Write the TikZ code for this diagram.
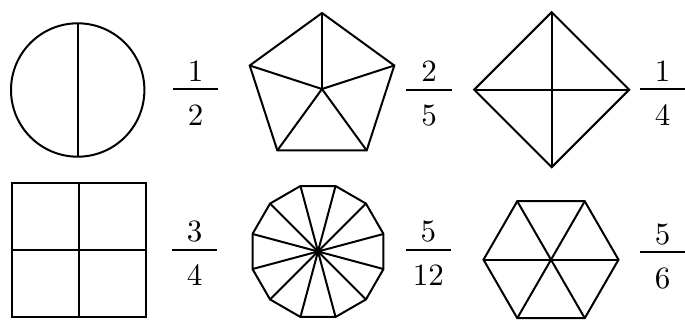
\documentclass[tikz,border=0pt]{standalone}
\usepackage{tikz}
\usetikzlibrary{shapes.geometric}

\font\fracfont=cmr10 at 31pt

\begin{document}
\begin{tikzpicture}[
    x=1pt,
    y=-1pt,
    piece/.style={draw=black,line width=2pt,outer sep=0pt,inner sep=0pt},
    ngon/.style={piece,regular polygon,regular polygon sides=#1},
    spoke/.style={draw=black,line width=2pt},
    hub/.style={circle,fill=black,minimum size=8pt,inner sep=0pt},
    digit/.style={font=\fracfont,inner sep=0pt},
    fracbar/.style={draw=black,line width=1.8pt}
  ]
    \useasboundingbox (0,0) rectangle (685,320);

    % top row
    \node[piece,circle,minimum size=133.4pt] (round) at (77.7,90) {};
    \draw[spoke] (round.north) -- (round.south);

    \node[ngon=5,minimum size=152pt] (penta) at (322,89) {};
    \foreach \i in {1,...,5} {
      \draw[spoke] (penta.center) -- (penta.corner \i);
    }

    \node[ngon=4,shape border rotate=45,minimum size=155pt] (rhomb) at (551.7,89.7) {};
    \draw[spoke] (rhomb.corner 1) -- (rhomb.corner 3);
    \draw[spoke] (rhomb.corner 2) -- (rhomb.corner 4);

    % bottom row
    \node[piece,rectangle,minimum size=133.7pt] (quad) at (79.2,250) {};
    \draw[spoke] (quad.north) -- (quad.south);
    \draw[spoke] (quad.west) -- (quad.east);

    \node[ngon=12,minimum size=135.6pt] (dodeca) at (318,251.5) {};
    \foreach \i in {1,...,12} {
      \draw[spoke] (dodeca.center) -- (dodeca.corner \i);
    }
    \node[hub] (middot) at (dodeca.center) {};

    \node[ngon=6,minimum size=135pt] (hexa) at (551,259.7) {};
    \foreach \i in {1,...,6} {
      \draw[spoke] (hexa.center) -- (hexa.corner \i);
    }

    % fractions
    \foreach \x/\y/\n/\d/\nm in {195.5/89.3/1/2/half, 429/90/2/5/penta,
        662.5/89.3/1/4/rhomb, 194.5/250/3/4/quad, 428.3/250/5/12/dodeca,
        662.5/252.3/5/6/hexa} {
      \node[digit] (\nm-num) at (\x,\y-18) {\n};
      \node[digit] (\nm-den) at (\x,\y+26) {\d};
      \draw[fracbar] (\x-22.7,\y) -- (\x+22.7,\y);
    }
  \end{tikzpicture}
\end{document}
